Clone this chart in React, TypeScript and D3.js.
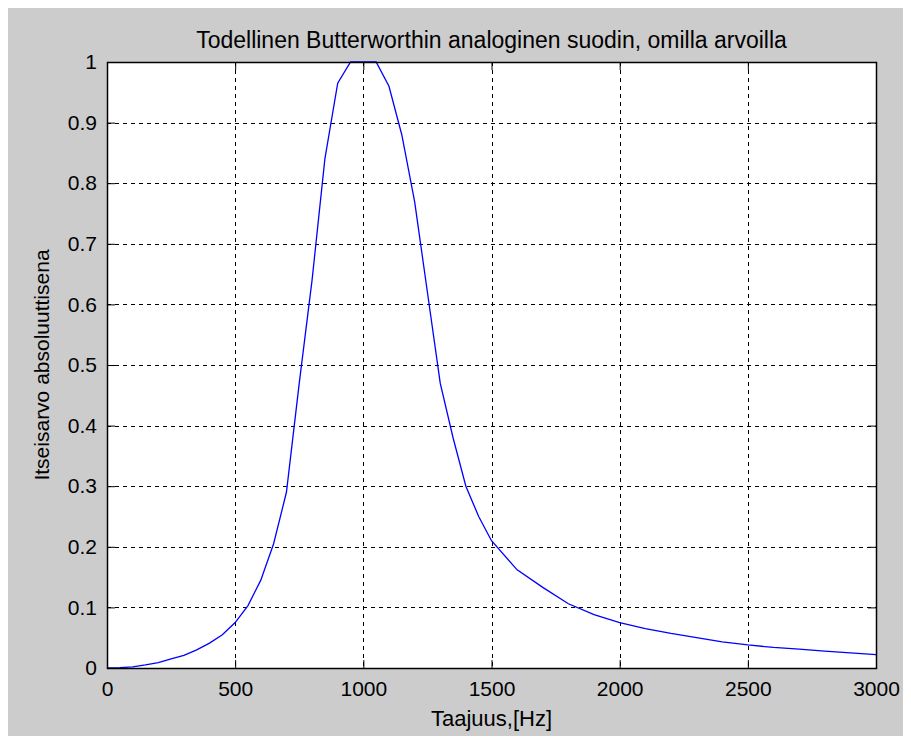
import React, { useRef, useEffect } from 'react';
import * as d3 from 'd3';

// taajuus (Hz) ja itseisarvo, luettu kuvasta
const freqs = [0, 50, 100, 150, 200, 250, 300, 350, 400, 450, 500, 550, 600, 650, 700, 750, 800, 850, 900, 950,
  1000, 1050, 1100, 1150, 1200, 1250, 1300, 1350, 1400, 1450, 1500, 1600, 1700, 1800, 1900, 2000,
  2100, 2200, 2300, 2400, 2500, 2600, 2700, 2800, 2900, 3000];
const magnitude = [0, 0.0005, 0.002, 0.005, 0.009, 0.015, 0.021, 0.03, 0.041, 0.055, 0.075, 0.103, 0.145, 0.205, 0.29, 0.47, 0.64, 0.84, 0.965, 1.0,
  1.0, 1.0, 0.96, 0.88, 0.77, 0.62, 0.47, 0.38, 0.3, 0.25, 0.21, 0.162, 0.133, 0.106, 0.088, 0.075,
  0.065, 0.057, 0.05, 0.043, 0.038, 0.034, 0.031, 0.028, 0.025, 0.022];
const xTicks = [0, 500, 1000, 1500, 2000, 2500, 3000];
const yTicks = [0, 0.1, 0.2, 0.3, 0.4, 0.5, 0.6, 0.7, 0.8, 0.9, 1];

const title = 'Todellinen Butterworthin analoginen suodin, omilla arvoilla';
const xLabel = 'Taajuus,[Hz]';
const yLabel = 'Itseisarvo absoluuttisena';

const W = 903;
const H = 728;

const ButterChart = () => {
  const svgRef = useRef<SVGSVGElement>(null);

  useEffect(() => {
    const svg = d3.select(svgRef.current);
    svg.selectAll('*').remove();

    const margin = { top: 54, right: 35, bottom: 68, left: 99 };
    const width = W - margin.left - margin.right;
    const height = H - margin.top - margin.bottom;
    const font = 'Liberation Sans, Arial, sans-serif';

    svg.append('rect').attr('width', W).attr('height', H).attr('fill', '#cccccc');

    const x = d3.scaleLinear().domain([0, 3000]).range([0, width]);
    const y = d3.scaleLinear().domain([0, 1]).range([height, 0]);

    const g = svg.append('g').attr('transform', `translate(${margin.left},${margin.top})`);

    g.append('rect').attr('width', width).attr('height', height).attr('fill', '#fff');

    // ruudukko
    g.append('g')
      .selectAll('line')
      .data(xTicks.slice(1, -1))
      .enter().append('line')
      .attr('x1', d => Math.round(x(d)) + 0.5)
      .attr('x2', d => Math.round(x(d)) + 0.5)
      .attr('y1', 0)
      .attr('y2', height)
      .attr('stroke', '#000')
      .attr('stroke-dasharray', '4,4');

    g.append('g')
      .selectAll('line')
      .data(yTicks.slice(1, -1))
      .enter().append('line')
      .attr('y1', d => Math.round(y(d)) + 0.5)
      .attr('y2', d => Math.round(y(d)) + 0.5)
      .attr('x1', 0)
      .attr('x2', width)
      .attr('stroke', '#000')
      .attr('stroke-dasharray', '4,4');

    // käyrä
    const line = d3.line<number>()
      .x((d, i) => x(freqs[i]))
      .y(d => y(d));

    g.append('path')
      .datum(magnitude)
      .attr('d', line)
      .attr('fill', 'none')
      .attr('stroke', '#0000ff')
      .attr('stroke-width', 1.3);

    // akselit, tikit sisäänpäin joka sivulla
    const tick = 8;
    const axisStyle = (sel: any) => {
      sel.select('.domain').remove();
      sel.selectAll('text')
        .attr('font-family', font)
        .attr('font-size', 21)
        .attr('fill', '#000');
      sel.selectAll('line').attr('stroke', '#000');
    };

    g.append('g')
      .attr('transform', `translate(0,${height})`)
      .call(d3.axisBottom(x).tickValues(xTicks).tickSize(-tick).tickPadding(13).tickFormat(d3.format('d')))
      .call(axisStyle);

    g.append('g')
      .call(d3.axisTop(x).tickValues(xTicks).tickSize(-tick).tickFormat(() => ''))
      .call(axisStyle);

    g.append('g')
      .call(d3.axisLeft(y).tickValues(yTicks).tickSize(-tick).tickPadding(10).tickFormat(d => d === 0 || d === 1 ? String(d) : d3.format('.1f')(d as number)))
      .call(axisStyle);

    g.append('g')
      .attr('transform', `translate(${width},0)`)
      .call(d3.axisRight(y).tickValues(yTicks).tickSize(-tick).tickFormat(() => ''))
      .call(axisStyle);

    g.append('rect')
      .attr('x', 0.5)
      .attr('y', 0.5)
      .attr('width', width)
      .attr('height', height)
      .attr('fill', 'none')
      .attr('stroke', '#000')
      .attr('stroke-width', 1.5);

    svg.append('text')
      .attr('x', margin.left + width / 2)
      .attr('y', 40)
      .attr('text-anchor', 'middle')
      .attr('font-family', font)
      .attr('font-size', 23)
      .text(title);

    svg.append('text')
      .attr('x', margin.left + width / 2)
      .attr('y', 718)
      .attr('text-anchor', 'middle')
      .attr('font-family', font)
      .attr('font-size', 22)
      .text(xLabel);

    svg.append('text')
      .attr('transform', `translate(41,${margin.top + height / 2}) rotate(-90)`)
      .attr('text-anchor', 'middle')
      .attr('font-family', font)
      .attr('font-size', 21)
      .text(yLabel);
  }, []);

  return <svg ref={svgRef} width={W} height={H} style={{ display: 'block' }} />;
};

export default function App() {
  return <ButterChart />;
}
